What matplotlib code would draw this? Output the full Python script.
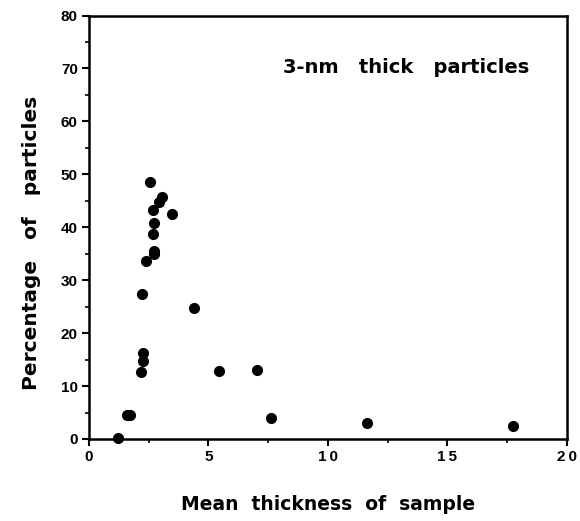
import matplotlib.pyplot as plt
from matplotlib.ticker import MultipleLocator

# mean sample thickness vs. share of 3-nm thick particles
thickness = [2.55, 3.04, 2.94, 2.66, 3.49, 2.72, 2.66, 2.72, 2.70, 2.37,
             2.23, 4.39, 2.25, 2.25, 2.19, 5.46, 7.04, 1.58, 1.72, 1.23,
             7.62, 11.62, 17.75]
percent = [48.6, 45.7, 44.7, 43.2, 42.5, 40.8, 38.8, 35.5, 34.9, 33.6,
           27.4, 24.7, 16.2, 14.7, 12.7, 12.9, 13.0, 4.5, 4.5, 0.1,
           3.9, 3.0, 2.5]

x_ticks = [0, 5, 10, 15, 20]
x_tick_labels = ["0", "5", "1\u20090", "1\u20095", "2\u20090"]
y_ticks = [0, 10, 20, 30, 40, 50, 60, 70, 80]

plt.rcParams['font.family'] = ['Liberation Sans', 'DejaVu Sans']
plt.rcParams['font.weight'] = 'bold'
wide = ['DejaVu Sans']

fig = plt.figure(figsize=(5.8, 5.21), dpi=100)
ax = fig.add_axes([0.1534, 0.1574, 0.8242, 0.8128])

ax.plot(thickness, percent, 'o', color='black', markersize=7, clip_on=False, zorder=3)

ax.set_xlim(0, 20)
ax.set_ylim(0, 80)
ax.set_xticks(x_ticks)
ax.set_xticklabels(x_tick_labels)
ax.set_yticks(y_ticks)
ax.xaxis.set_minor_locator(MultipleLocator(2.5))
ax.yaxis.set_minor_locator(MultipleLocator(5))
ax.tick_params(which='major', direction='out', length=5, width=1.5, labelsize=11, pad=3)
ax.tick_params(which='minor', direction='out', length=3, width=1.2)

for s in ax.spines.values():
    s.set_linewidth(1.8)

ax.set_xlabel("Mean  thickness  of  sample", fontsize=13.5, fontweight='bold',
              family=wide, labelpad=22)
ax.set_ylabel("Percentage   of   particles", fontsize=14.5, fontweight='bold',
              family=wide)
ax.yaxis.set_label_coords(-0.100, 0.462)

ax.text(8.1, 70.1, "3-nm   thick   particles", fontsize=14, fontweight='bold',
        family=wide, va='center', ha='left')

fig.savefig("out.png", dpi=100)
